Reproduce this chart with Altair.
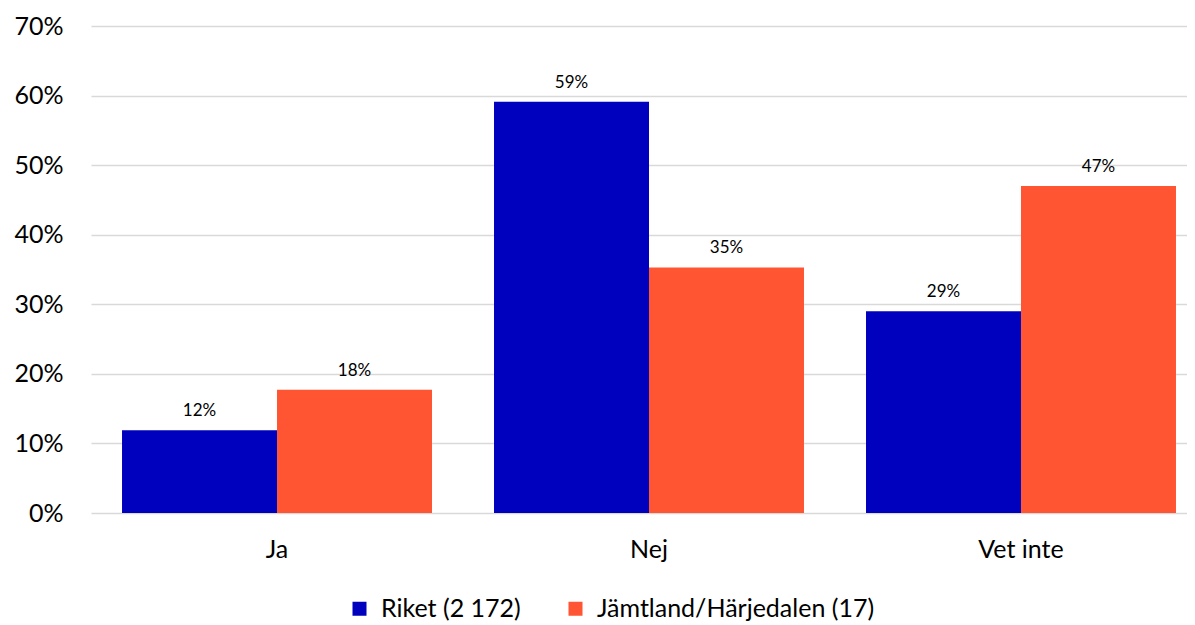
import altair as alt
import pandas as pd

categories = ["Ja", "Nej", "Vet inte"]
series = ["Riket (2 172)", "Jämtland/Härjedalen (17)"]
riket = [0.119, 0.591, 0.290]
jamtland = [0.177, 0.353, 0.470]
colors = ["#0000BF", "#FF5533"]
y_ticks = [0, 0.1, 0.2, 0.3, 0.4, 0.5, 0.6, 0.7]

rows = []
for c, r, j in zip(categories, riket, jamtland):
    rows.append({"cat": c, "series": series[0], "value": r})
    rows.append({"cat": c, "series": series[1], "value": j})
df = pd.DataFrame(rows)

font = "Lato"

x = alt.X(
    "cat:N", sort=categories, title=None,
    scale=alt.Scale(paddingInner=0.1667, paddingOuter=0.0565, align=0.738),
    axis=alt.Axis(labelAngle=0, labelFontSize=25, labelFont=font, labelColor="#000",
                  labelPadding=24, ticks=False, domain=False, grid=False),
)
xo = alt.XOffset("series:N", sort=series, scale=alt.Scale(paddingInner=0, paddingOuter=0))
y = alt.Y(
    "value:Q", title=None,
    scale=alt.Scale(domain=[0, 0.7]),
    axis=alt.Axis(values=y_ticks, format=".0%", labelFontSize=25, labelFont=font,
                  labelColor="#000", labelPadding=28, ticks=False, domain=False,
                  gridColor="#D9D9D9", gridWidth=1.5),
)
color = alt.Color(
    "series:N", sort=series,
    scale=alt.Scale(domain=series, range=colors),
    legend=alt.Legend(orient="none", legendX=256, legendY=570, direction="horizontal",
                      title=None, symbolType="square", symbolSize=196, symbolOpacity=1,
                      labelFontSize=25, labelFont=font, labelColor="#000",
                      symbolStrokeWidth=0, columnPadding=42, labelOffset=9, padding=0,
                      labelLimit=400),
)

bars = alt.Chart(df).mark_bar(opacity=1).encode(x=x, xOffset=xo, y=y, color=color)
labels = alt.Chart(df).mark_text(dy=-14, baseline="alphabetic", fontSize=17, font=font,
                                 color="#000").encode(
    x=x, xOffset=xo, y=y, text=alt.Text("value:Q", format=".0%"))

chart = (bars + labels).properties(
    width=1096, height=487,
    autosize=alt.AutoSizeParams(type="none"),
    padding={"left": 83, "top": 18, "right": 0, "bottom": 108},
).configure_view(stroke=None)

chart.save("out.html", embed_options={"renderer": "svg", "actions": False})
